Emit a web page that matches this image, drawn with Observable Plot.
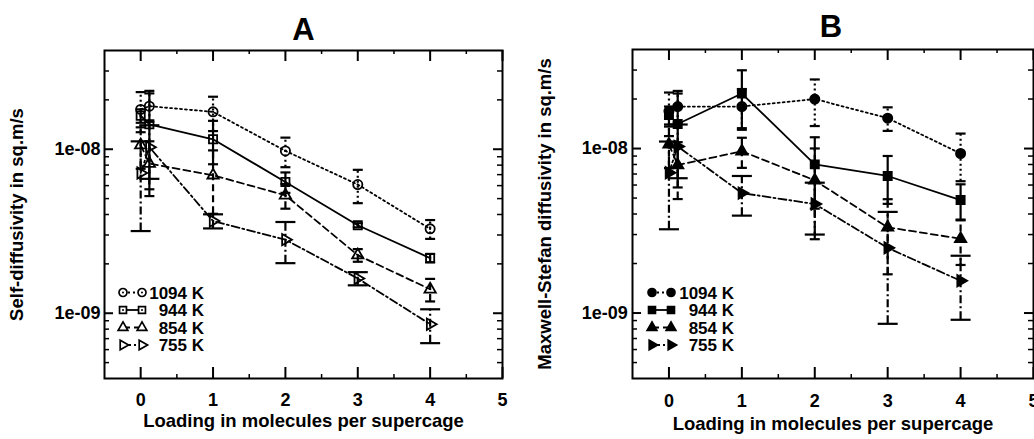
<!DOCTYPE html>
<html><head><meta charset="utf-8">
<script src="https://cdn.jsdelivr.net/npm/d3@7"></script>
<script src="https://cdn.jsdelivr.net/npm/@observablehq/plot@0.6"></script>
<style>
html,body{margin:0;padding:0;background:#fff;}
#wrap{position:relative;width:1034px;height:439px;overflow:hidden;font-family:"Liberation Sans",Arial,sans-serif;}
.panel{position:absolute;top:0;}
#legend{position:absolute;left:0;top:0;pointer-events:none;}
</style></head><body><div id="wrap"></div>
<script>
// ---------- data ----------
const loadings = [0, 0.12, 1, 2, 3, 4];
const temperatures = ["1094 K", "944 K", "854 K", "755 K"];

// Panel A: self-diffusivity (m^2/s)
const self1094 = [1.75e-8, 1.83e-8, 1.69e-8, 9.77e-9, 6.09e-9, 3.27e-9];
const self944  = [1.60e-8, 1.42e-8, 1.15e-8, 6.32e-9, 3.44e-9, 2.17e-9];
const self854  = [1.06e-8, 8.18e-9, 6.94e-9, 5.24e-9, 2.26e-9, 1.40e-9];
const self755  = [7.17e-9, 1.03e-8, 3.65e-9, 2.81e-9, 1.63e-9, 8.57e-10];
const selfErr1094 = [4.8e-9, 3.6e-9, 4.0e-9, 2.0e-9, 1.4e-9, 4.3e-10];
const selfErr944  = [1.5e-9, 8.5e-9, 3.4e-9, 9.0e-10, 1.0e-10, 1.3e-10];
const selfErr854  = [3.0e-9, 3.0e-9, 2.9e-9, 9.0e-10, 2.0e-10, 2.2e-10];
const selfErr755  = [4.0e-9, 3.7e-9, 3.6e-10, 7.9e-10, 1.5e-10, 2.0e-10];

// Panel B: Maxwell-Stefan diffusivity (m^2/s)
const ms1094 = [1.69e-8, 1.80e-8, 1.80e-8, 2.00e-8, 1.53e-8, 9.33e-9];
const ms944  = [1.60e-8, 1.41e-8, 2.16e-8, 8.01e-9, 6.81e-9, 4.86e-9];
const ms854  = [1.06e-8, 7.93e-9, 9.63e-9, 6.41e-9, 3.32e-9, 2.83e-9];
const ms755  = [7.13e-9, 1.03e-8, 5.36e-9, 4.60e-9, 2.49e-9, 1.57e-9];
const msErr1094 = [5.0e-9, 3.6e-9, 5.0e-9, 6.3e-9, 2.5e-9, 3.0e-9];
const msErr944  = [2.0e-9, 8.3e-9, 8.3e-9, 3.7e-9, 2.2e-9, 1.2e-9];
const msErr854  = [3.0e-9, 3.0e-9, 2.0e-9, 3.6e-9, 1.6e-9, 8.7e-10];
const msErr755  = [3.9e-9, 3.7e-9, 1.45e-9, 1.6e-9, 1.63e-9, 6.6e-10];

// axes
const xTicks = [0, 1, 2, 3, 4, 5];
const xMinorTicks = [0.5, 1.5, 2.5, 3.5, 4.5];
const yTicks = [1e-9, 1e-8];
const yTickLabels = ["1e-09", "1e-08"];
const yMinorTicks = [5e-10, 6e-10, 7e-10, 8e-10, 9e-10, 2e-9, 3e-9, 4e-9, 5e-9, 6e-9, 7e-9, 8e-9, 9e-9, 2e-8, 3e-8];
const xLabel = "Loading in molecules per supercage";
const yLabelA = "Self-diffusivity in sq.m/s";
const yLabelB = "Maxwell-Stefan diffusivity in sq.m/s";

// ---------- styles ----------
const triRight = {draw(ctx, size) {
  const y = -Math.sqrt(size / (Math.sqrt(3) * 3)), s3 = Math.sqrt(3);
  ctx.moveTo(-2 * y, 0); ctx.lineTo(y, -s3 * y); ctx.lineTo(y, s3 * y); ctx.closePath();
}};
const capSym = {draw(ctx, size) {
  const w = Math.sqrt(size / Math.PI); ctx.moveTo(-w, 0); ctx.lineTo(w, 0);
}};
const symbols = ["circle", "square", "triangle", triRight];
const d3symbols = [d3.symbolCircle, d3.symbolSquare, d3.symbolTriangle, triRight];
const markR = [4.6, 4.6, 4.2, 4.2];
const dashes = ["2,3", null, "7,4", "8,3,2,3"];
const capR = [5, 5, 5, 10];

function rowsFor(vals, errs) {
  return temperatures.map((T, i) => loadings.map((x, j) => ({T, x, v: vals[i][j], e: errs[i][j]})));
}

function panel(series, o) {
  const H = 439;
  const fw = o.width - o.marginLeft - o.marginRight, fh = H - o.marginTop - o.marginBottom;
  const marks = [];
  series.forEach((rows, i) => {
    marks.push(Plot.ruleX(rows, {x: "x", y1: d => d.v - d.e, y2: d => d.v + d.e, stroke: "black", strokeWidth: 2.2, strokeDasharray: dashes[i]}));
    marks.push(Plot.line(rows, {x: "x", y: "v", stroke: "black", strokeWidth: 1.8, strokeDasharray: dashes[i]}));
    marks.push(Plot.dot(rows, {x: "x", y: d => d.v + d.e, symbol: capSym, r: capR[i], stroke: "black", strokeWidth: 2.2, fill: "none"}));
    marks.push(Plot.dot(rows, {x: "x", y: d => d.v - d.e, symbol: capSym, r: capR[i], stroke: "black", strokeWidth: 2.2, fill: "none"}));
    marks.push(Plot.dot(rows, {x: "x", y: "v", symbol: symbols[i], r: markR[i], stroke: "black", strokeWidth: 1.8, fill: o.filled ? "black" : "none"}));
    if (!o.filled && i < 2) marks.push(Plot.dot(rows, {x: "x", y: "v", symbol: symbols[i], r: 1.1, fill: "black", stroke: "none"}));
  });
  // inward ticks
  marks.push(Plot.tickY(yMinorTicks, {y: d => d, insetRight: fw - 5, stroke: "black", strokeWidth: 1.5}));
  marks.push(Plot.tickY(yMinorTicks, {y: d => d, insetLeft: fw - 5, stroke: "black", strokeWidth: 1.5}));
  marks.push(Plot.tickY(yTicks, {y: d => d, insetRight: fw - 9, stroke: "black", strokeWidth: 2}));
  marks.push(Plot.tickY(yTicks, {y: d => d, insetLeft: fw - 9, stroke: "black", strokeWidth: 2}));
  marks.push(Plot.tickX(xTicks, {x: d => d, insetTop: fh - 11, stroke: "black", strokeWidth: 2}));
  marks.push(Plot.tickX(xTicks, {x: d => d, insetBottom: fh - 11, stroke: "black", strokeWidth: 2}));
  marks.push(Plot.tickX(xMinorTicks, {x: d => d, insetTop: fh - 4, stroke: "black", strokeWidth: 1.5}));
  marks.push(Plot.tickX(xMinorTicks, {x: d => d, insetBottom: fh - 4, stroke: "black", strokeWidth: 1.5}));
  marks.push(Plot.frame({stroke: "black", strokeWidth: 2}));
  marks.push(Plot.axisX(xTicks, {tickSize: 0, tickPadding: o.xPad, fontSize: 18, fontWeight: "bold", label: null}));
  marks.push(Plot.axisY(yTicks, {tickSize: 0, tickPadding: o.yPad, fontSize: 18, fontWeight: "bold", label: null,
    tickFormat: d => yTickLabels[yTicks.indexOf(d)]}));
  marks.push(Plot.text([o.title], {frameAnchor: "top", text: d => d, dx: o.titleDx, dy: o.titleDy, fontSize: 31, fontWeight: "bold", textAnchor: "middle", lineAnchor: "middle"}));
  marks.push(Plot.text([o.ylabel], {frameAnchor: "left", text: d => d, rotate: -90, dx: -87, fontSize: 18.5, fontWeight: "bold", textAnchor: "middle", lineAnchor: "middle"}));
  marks.push(Plot.text([xLabel], {frameAnchor: "bottom", text: d => d, dy: o.xlabDy, fontSize: 18.5, fontWeight: "bold", textAnchor: "middle", lineAnchor: "middle"}));
  return Plot.plot({
    width: o.width, height: H,
    marginLeft: o.marginLeft, marginRight: o.marginRight, marginTop: o.marginTop, marginBottom: o.marginBottom,
    x: {type: "linear", domain: [-0.5, 5]},
    y: {type: "log", domain: [4e-10, 4e-8]},
    style: {fontFamily: "'Liberation Sans', Arial, sans-serif", fontWeight: "bold", background: "white", overflow: "visible", color: "black"},
    marks
  });
}

const wrap = document.getElementById("wrap");
const A = panel(rowsFor([self1094, self944, self854, self755], [selfErr1094, selfErr944, selfErr854, selfErr755]),
  {width: 517, marginLeft: 104, marginRight: 15, marginTop: 50, marginBottom: 61, filled: false, title: "A", ylabel: yLabelA,
   titleDx: 0, titleDy: -20, xlabDy: 43, xPad: 14.5, yPad: 4});
const B = panel(rowsFor([ms1094, ms944, ms854, ms755], [msErr1094, msErr944, msErr854, msErr755]),
  {width: 517, marginLeft: 115, marginRight: 1, marginTop: 49, marginBottom: 61, filled: true, title: "B", ylabel: yLabelB,
   titleDx: -2, titleDy: -22, xlabDy: 46, xPad: 16, yPad: 4.7});
const da = document.createElement("div"); da.className = "panel"; da.style.left = "0px"; da.appendChild(A); wrap.appendChild(da);
const db = document.createElement("div"); db.className = "panel"; db.style.left = "517px"; db.appendChild(B); wrap.appendChild(db);

// ---------- legends ----------
const legend = d3.create("svg").attr("id", "legend").attr("width", 1034).attr("height", 439);
const legendRows = [292.5, 310, 327.5, 345];
const legendR = [4, 3.9, 3.6, 3.6];
[{x1: 123, x2: 142, xt: 204, filled: false}, {x1: 652, x2: 671, xt: 734, filled: true}].forEach(L => {
  temperatures.forEach((T, i) => {
    const y = legendRows[i];
    legend.append("line").attr("x1", L.x1).attr("x2", L.x2).attr("y1", y).attr("y2", y)
      .attr("stroke", "black").attr("stroke-width", 1.8).attr("stroke-dasharray", dashes[i]);
    [L.x1, L.x2].forEach(x => {
      legend.append("path").attr("transform", `translate(${x},${y})`)
        .attr("d", d3.symbol(d3symbols[i], Math.PI * legendR[i] * legendR[i])())
        .attr("fill", L.filled ? "black" : "white").attr("stroke", "black").attr("stroke-width", 1.7);
      if (!L.filled && i < 2) legend.append("circle").attr("cx", x).attr("cy", y).attr("r", 1).attr("fill", "black");
    });
    legend.append("text").attr("x", L.xt).attr("y", y + 6).attr("text-anchor", "end")
      .attr("font-family", "'Liberation Sans', Arial, sans-serif").attr("font-weight", "bold").attr("font-size", 17)
      .text(T);
  });
});
wrap.appendChild(legend.node());
</script></body></html>
